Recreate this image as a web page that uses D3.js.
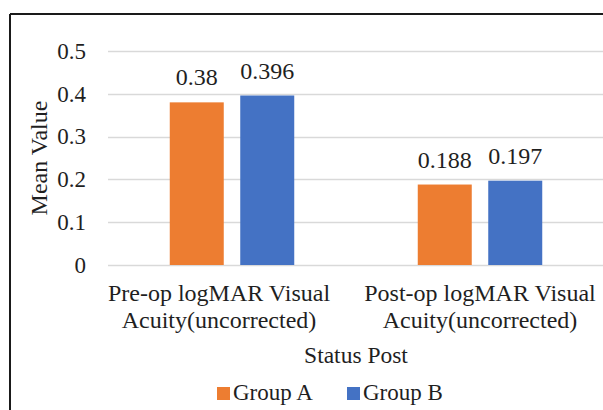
<!DOCTYPE html>
<html>
<head>
<meta charset="utf-8">
<script src="https://cdn.jsdelivr.net/npm/d3@7"></script>
<style>
  html, body { margin: 0; padding: 0; background: #fff; }
  svg { display: block; }
</style>
</head>
<body>
<svg id="chart" width="603" height="410"></svg>
<script>
// Category labels (each split into two lines) and series
const categories = ["Pre-op", "Post-op"];
const categoryLines = [
  ["Pre-op logMAR Visual", "Acuity(uncorrected)"],
  ["Post-op logMAR Visual", "Acuity(uncorrected)"]
];
const seriesNames = ["Group A", "Group B"];
const groupA = [0.38, 0.188];
const groupB = [0.396, 0.197];
const yTicks = [0, 0.1, 0.2, 0.3, 0.4, 0.5];
const colors = ["#ED7D31", "#4472C4"];

const FONT = "'Liberation Serif', 'Times New Roman', Tinos, serif";
const svg = d3.select("#chart");

function styleText(sel, size) {
  return sel.style("font-family", FONT).style("font-size", (size || 23.5) + "px").attr("fill", "#1f1f1f");
}

// Outer frame of the chart area
svg.append("line").attr("x1", 10).attr("x2", 603).attr("y1", 14).attr("y2", 14)
  .attr("stroke", "#1a1a1a").attr("stroke-width", 2);
svg.append("line").attr("x1", 10).attr("x2", 10).attr("y1", 14).attr("y2", 410)
  .attr("stroke", "#1a1a1a").attr("stroke-width", 2);

const plot = { left: 108, right: 604, top: 51, bottom: 265 };

const x0 = d3.scaleBand().domain(categories).range([plot.left, plot.right]).padding(0);
const x1 = d3.scaleBand().domain(seriesNames).range([0, x0.bandwidth()])
  .paddingInner(0.234).paddingOuter(0.876);
const y = d3.scaleLinear().domain([0, 0.5]).range([plot.bottom, plot.top]);

// Gridlines
svg.append("g").selectAll("line").data(yTicks).join("line")
  .attr("x1", plot.left).attr("x2", plot.right)
  .attr("y1", d => Math.round(y(d)) + 0.5).attr("y2", d => Math.round(y(d)) + 0.5)
  .attr("stroke", "#d9d9d9").attr("stroke-width", 1.5);

// Y axis tick labels
const yAxis = d3.axisLeft(y).tickValues(yTicks).tickSize(0).tickPadding(0)
  .tickFormat(d => d === 0 ? "0" : d3.format(".1f")(d));
const yg = svg.append("g").attr("transform", `translate(86,0)`).call(yAxis)
  .attr("font-family", null).attr("font-size", null);
yg.select(".domain").remove();
styleText(yg.selectAll("text"), 23);

// Bars
const rows = categories.map((c, i) => ({ cat: c, values: [groupA[i], groupB[i]] }));
const groups = svg.append("g").selectAll("g").data(rows).join("g")
  .attr("transform", d => `translate(${x0(d.cat)},0)`);

groups.selectAll("rect").data(d => d.values.map((v, j) => ({ s: seriesNames[j], v, j })))
  .join("rect")
  .attr("x", d => x1(d.s))
  .attr("width", x1.bandwidth())
  .attr("y", d => y(d.v))
  .attr("height", d => y(0) - y(d.v))
  .attr("fill", d => colors[d.j]);

// Value labels
styleText(groups.selectAll("text.val").data(d => d.values.map((v, j) => ({ s: seriesNames[j], v, j })))
  .join("text").attr("class", "val")
  .attr("x", d => x1(d.s) + x1.bandwidth() / 2)
  .attr("y", d => y(d.v) - 17)
  .attr("text-anchor", "middle")
  .text(d => String(d.v)), 24);

// Category labels (two lines)
const catLabel = styleText(svg.append("g").selectAll("text").data(categories).join("text")
  .attr("text-anchor", "middle")
  .attr("transform", (d, i) => `translate(${x0(d) + x0.bandwidth() / 2 + (i === 0 ? -13 : 0)},301)`), 24);
catLabel.selectAll("tspan").data((d, i) => categoryLines[i]).join("tspan")
  .attr("x", 0).attr("dy", (d, k) => k === 0 ? 0 : 27).text(d => d);

// Axis titles
styleText(svg.append("text").attr("x", (plot.left + plot.right) / 2).attr("y", 363)
  .attr("text-anchor", "middle").text("Status Post"));
styleText(svg.append("text").attr("transform", "translate(46.5,158) rotate(-90)")
  .attr("text-anchor", "middle").text("Mean Value"), 24);

// Legend
const legendX = [217, 347];
const legend = svg.append("g").selectAll("g").data(seriesNames).join("g")
  .attr("transform", (d, i) => `translate(${legendX[i]},387)`);
legend.append("rect").attr("width", 13).attr("height", 13).attr("fill", (d, i) => colors[i]);
styleText(legend.append("text").attr("x", 16).attr("y", 13).text(d => d), 23);
</script>
</body>
</html>
